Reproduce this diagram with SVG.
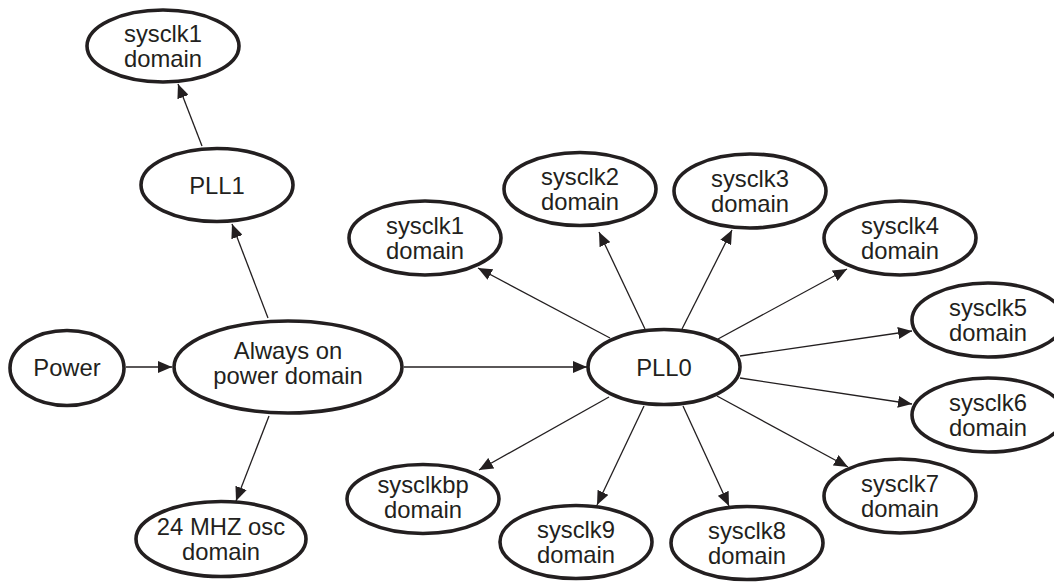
<svg xmlns="http://www.w3.org/2000/svg" width="1054" height="582" viewBox="0 0 1054 582">
<style>
.n{fill:#fff;stroke:#231f20;stroke-width:3.6}
.t{font-family:"Liberation Sans",Arial,sans-serif;font-size:23.8px;fill:#231f20;text-anchor:middle}
.c{stroke:#231f20;stroke-width:1.3;fill:none;marker-end:url(#ah)}
</style>
<defs>
<marker id="ah" markerUnits="userSpaceOnUse" markerWidth="15" markerHeight="12" refX="14" refY="6" orient="auto">
<path d="M0,0 L14,6 L0,12 z" fill="#231f20"/>
</marker>
</defs>
<rect width="1054" height="582" fill="#fff"/>
<g id="n_sysclk1_top"><ellipse class="n" cx="163" cy="46" rx="76" ry="36"/><text class="t" x="163" y="42">sysclk1</text><text class="t" x="163" y="67">domain</text></g>
<g id="n_pll1"><ellipse class="n" cx="217" cy="185" rx="76" ry="36.5"/><text class="t" x="217" y="194">PLL1</text></g>
<g id="n_power"><ellipse class="n" cx="67" cy="368" rx="57" ry="37.5"/><text class="t" x="67" y="376">Power</text></g>
<g id="n_always"><ellipse class="n" cx="288" cy="367" rx="114" ry="46"/><text class="t" x="288" y="359">Always on</text><text class="t" x="288" y="384">power domain</text></g>
<g id="n_osc"><ellipse class="n" cx="221" cy="539" rx="85" ry="37.5"/><text class="t" x="221" y="535">24 MHZ osc</text><text class="t" x="221" y="560">domain</text></g>
<g id="n_pll0"><ellipse class="n" cx="664" cy="367" rx="76" ry="37.5"/><text class="t" x="664" y="376">PLL0</text></g>
<g id="n_sysclk1"><ellipse class="n" cx="425" cy="238" rx="76" ry="37"/><text class="t" x="425" y="234">sysclk1</text><text class="t" x="425" y="259">domain</text></g>
<g id="n_sysclk2"><ellipse class="n" cx="580" cy="189" rx="76" ry="36.5"/><text class="t" x="580" y="185">sysclk2</text><text class="t" x="580" y="210">domain</text></g>
<g id="n_sysclk3"><ellipse class="n" cx="750" cy="191" rx="76" ry="37"/><text class="t" x="750" y="187">sysclk3</text><text class="t" x="750" y="212">domain</text></g>
<g id="n_sysclk4"><ellipse class="n" cx="900" cy="238" rx="76" ry="37"/><text class="t" x="900" y="234">sysclk4</text><text class="t" x="900" y="259">domain</text></g>
<g id="n_sysclk5"><ellipse class="n" cx="988" cy="320" rx="76" ry="37"/><text class="t" x="988" y="316">sysclk5</text><text class="t" x="988" y="341">domain</text></g>
<g id="n_sysclk6"><ellipse class="n" cx="988" cy="415" rx="76" ry="37"/><text class="t" x="988" y="411">sysclk6</text><text class="t" x="988" y="436">domain</text></g>
<g id="n_sysclk7"><ellipse class="n" cx="900" cy="496" rx="76" ry="37"/><text class="t" x="900" y="492">sysclk7</text><text class="t" x="900" y="517">domain</text></g>
<g id="n_sysclk8"><ellipse class="n" cx="747" cy="543" rx="76" ry="36.5"/><text class="t" x="747" y="539">sysclk8</text><text class="t" x="747" y="564">domain</text></g>
<g id="n_sysclk9"><ellipse class="n" cx="576" cy="542" rx="76" ry="36.5"/><text class="t" x="576" y="538">sysclk9</text><text class="t" x="576" y="563">domain</text></g>
<g id="n_sysclkbp"><ellipse class="n" cx="423" cy="499" rx="76" ry="34.5"/><text class="t" x="423" y="493">sysclkbp</text><text class="t" x="423" y="518">domain</text></g>
<g id="connectors">
<line class="c" x1="202" y1="146" x2="178" y2="84"/>
<line class="c" x1="268" y1="318" x2="232" y2="224"/>
<line class="c" x1="126" y1="367" x2="172" y2="367"/>
<line class="c" x1="269" y1="416" x2="236" y2="501"/>
<line class="c" x1="404" y1="367" x2="587" y2="367"/>
<line class="c" x1="610" y1="338" x2="478" y2="268"/>
<line class="c" x1="645" y1="329" x2="599" y2="232"/>
<line class="c" x1="682" y1="329" x2="732" y2="230"/>
<line class="c" x1="718" y1="339" x2="847" y2="269"/>
<line class="c" x1="740" y1="356" x2="912" y2="331"/>
<line class="c" x1="740" y1="378" x2="912" y2="404"/>
<line class="c" x1="717" y1="396" x2="848" y2="467"/>
<line class="c" x1="683" y1="406" x2="729" y2="506"/>
<line class="c" x1="644" y1="406" x2="597" y2="505"/>
<line class="c" x1="609" y1="397" x2="479" y2="470"/>
</g>
</svg>
